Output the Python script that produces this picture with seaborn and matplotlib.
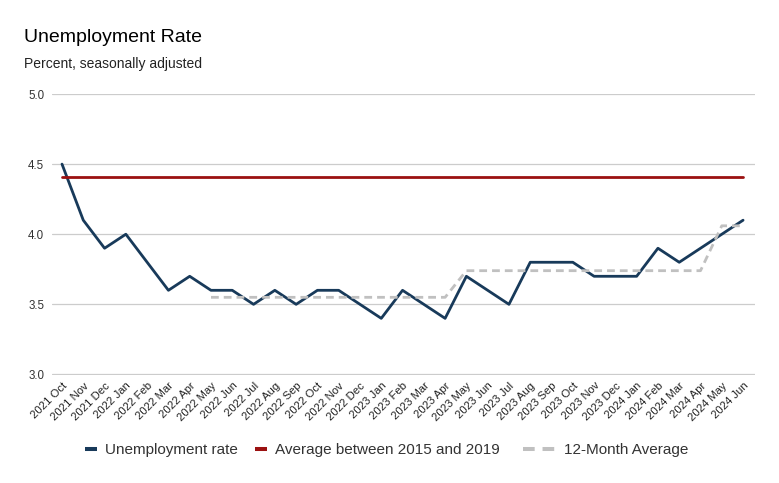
import matplotlib
matplotlib.use("Agg")
import matplotlib.pyplot as plt
from matplotlib.lines import Line2D
import seaborn as sns
import pandas as pd
import numpy as np

months = ["2021 Oct", "2021 Nov", "2021 Dec", "2022 Jan", "2022 Feb", "2022 Mar", "2022 Apr",
          "2022 May", "2022 Jun", "2022 Jul", "2022 Aug", "2022 Sep", "2022 Oct", "2022 Nov",
          "2022 Dec", "2023 Jan", "2023 Feb", "2023 Mar", "2023 Apr", "2023 May", "2023 Jun",
          "2023 Jul", "2023 Aug", "2023 Sep", "2023 Oct", "2023 Nov", "2023 Dec", "2024 Jan",
          "2024 Feb", "2024 Mar", "2024 Apr", "2024 May", "2024 Jun"]
unemployment = [4.5, 4.1, 3.9, 4.0, 3.8, 3.6, 3.7, 3.6, 3.6, 3.5, 3.6, 3.5, 3.6, 3.6, 3.5, 3.4,
                3.6, 3.5, 3.4, 3.7, 3.6, 3.5, 3.8, 3.8, 3.8, 3.7, 3.7, 3.7, 3.9, 3.8, 3.9, 4.0, 4.1]
avg_2015_2019 = [4.41] * len(months)
twelve_month = [np.nan] * 7 + [3.55] * 12 + [3.74] * 12 + [4.06] * 2

series_names = ["Unemployment rate", "Average between 2015 and 2019", "12-Month Average"]
colors = ["#183a5a", "#9b1111", "#c0c0c0"]

df = pd.DataFrame({"month": months, "idx": range(len(months)),
                   series_names[0]: unemployment,
                   series_names[1]: avg_2015_2019,
                   series_names[2]: twelve_month})

sns.set_theme(style="white")
plt.rcParams["font.family"] = ["Liberation Sans", "DejaVu Sans"]

W, H = 779, 483
fig = plt.figure(figsize=(W / 100, H / 100), dpi=100)
ax = fig.add_axes([52/W, 1-375/H, (755-52)/W, (375-94)/H])

sns.lineplot(data=df, x="idx", y=series_names[0], ax=ax, color=colors[0], lw=2, legend=False)
sns.lineplot(data=df, x="idx", y=series_names[1], ax=ax, color=colors[1], lw=2, legend=False)
sns.lineplot(data=df, x="idx", y=series_names[2], ax=ax, color=colors[2], lw=2, legend=False)
ax.lines[-1].set_dashes([2.8, 1.8])

ax.set_xlim(-0.47, len(months) - 1 + 0.56)
ax.set_ylim(2.996, 5.0)
ax.set_yticks([3.0, 3.5, 4.0, 4.5, 5.0])
ax.set_yticklabels(["3.0", "3.5", "4.0", "4.5", "5.0"], fontsize=8.3, color="#333333")
ax.set_xticks(range(len(months)))
ax.set_xticklabels(months, rotation=45, ha="right", rotation_mode="anchor", fontsize=8.1,
                   color="#222222")
ax.tick_params(axis="x", length=0, pad=4)
ax.tick_params(axis="y", length=0, pad=5.5)
ax.yaxis.grid(True, color="#cccccc", lw=0.9)
ax.xaxis.grid(False)
ax.set_axisbelow(True)
for s in ax.spines.values():
    s.set_visible(False)
ax.set_xlabel("")
ax.set_ylabel("")

# legend: one entry per legend, so each can have its own handle length
fs = 11
em_px = fs * 100 / 72
legend_specs = [
    (85, 12, None),
    (255, 12, None),
    (523, 33, [2.9, 1.95]),
]
for (x0, hlen_px, dashes), name, col in zip(legend_specs, series_names, colors):
    h = Line2D([], [], color=col, lw=2.9, solid_capstyle="butt", dash_capstyle="butt")
    if dashes is not None:
        h.set_dashes(dashes)
    lg = fig.legend([h], [name], loc="center left", bbox_to_anchor=(x0 / W, 1 - 450 / H),
                    frameon=False, fontsize=fs, handlelength=hlen_px / em_px,
                    handletextpad=8 / em_px, borderpad=0, borderaxespad=0)
    for t in lg.get_texts():
        t.set_color("#333333")

fig.text(24/W, 1-37/H, "Unemployment Rate", fontsize=14, color="black", va="center")
fig.text(24/W, 1-64/H, "Percent, seasonally adjusted", fontsize=10, color="#222222",
         va="center")

fig.savefig("out.png", dpi=100)
